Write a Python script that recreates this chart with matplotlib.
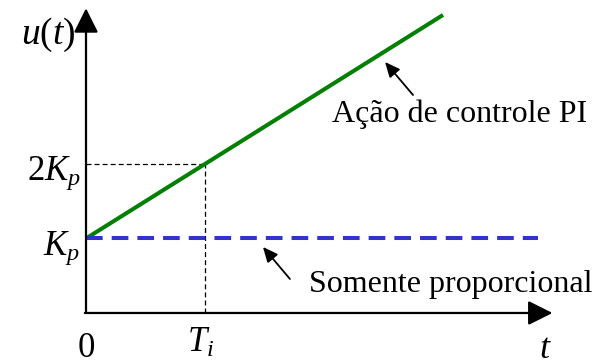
import matplotlib
matplotlib.use("Agg")
import matplotlib.pyplot as plt

plt.rcParams["font.family"] = ["Liberation Serif", "DejaVu Serif"]
plt.rcParams["mathtext.fontset"] = "custom"
plt.rcParams["mathtext.rm"] = "Liberation Serif"
plt.rcParams["mathtext.it"] = "Liberation Serif:italic"
plt.rcParams["lines.scale_dashes"] = False

# time in units of Ti, output in units of Kp
t_pi = [0, 3]
u_pi = [1, 4]
t_p = [0, 3.8]
u_p = [1, 1]
t_ref = 1      # Ti
u_ref = 2      # 2Kp

fig = plt.figure(figsize=(5.96, 3.62), dpi=100)
ax = fig.add_axes([0, 0, 1, 1])
ax.set_xlim(-0.7227, 4.2857)
ax.set_ylim(-0.658, 4.201)
ax.axis("off")

# axes with arrow heads
arrow = dict(arrowstyle="-|>,head_length=1,head_width=0.5", mutation_scale=15,
             lw=1.6, color="black", shrinkA=0, shrinkB=0)
ax.annotate("", xy=(0, 4.09), xytext=(0, 0), arrowprops=arrow)
ax.annotate("", xy=(3.92, 0), xytext=(-0.01, 0), arrowprops=arrow)

# guide lines to Ti and 2Kp
ax.plot([0, t_ref], [u_ref, u_ref], color="black", lw=0.9, dashes=(3.6, 2.2))
ax.plot([t_ref, t_ref], [0, u_ref], color="black", lw=0.9, dashes=(3.6, 2.2))

ax.plot(t_pi, u_pi, color="#008000", lw=2.9, solid_capstyle="butt")
ax.plot(t_p, u_p, color="#3333cc", lw=2.9, dashes=(12, 6.5))

ax.text(-0.084, 3.73, "$u(t)$", fontsize=27, ha="right", va="center")
ax.text(-0.04, 1.785, "$2K_p$", fontsize=25, ha="right", va="baseline")
ax.text(-0.05, 0.78, "$K_p$", fontsize=25, ha="right", va="baseline")
ax.text(0, -0.59, "0", fontsize=25, ha="center", va="baseline")
ax.text(0.96, -0.523, "$T_i$", fontsize=25, ha="center", va="baseline")
ax.text(3.86, -0.61, "$t$", fontsize=26, ha="center", va="baseline")

small = dict(arrowstyle="-|>,head_length=1,head_width=0.45", mutation_scale=9,
             lw=1.3, color="black", shrinkA=0, shrinkB=0)
ax.annotate("", xy=(2.513, 3.369), xytext=(2.748, 2.926), arrowprops=small)
ax.annotate("", xy=(1.487, 0.886), xytext=(1.714, 0.456), arrowprops=small)
ax.text(2.07, 2.56, "Ação de controle PI", fontsize=23, ha="left", va="baseline")
ax.text(1.87, 0.28, "Somente proporcional", fontsize=23, ha="left", va="baseline")

fig.savefig("out.png", dpi=100)
